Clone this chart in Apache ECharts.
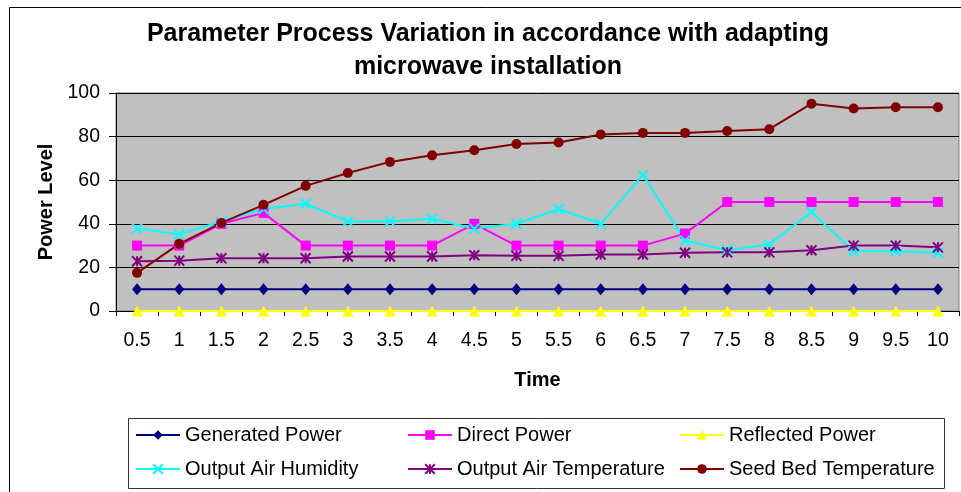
<!DOCTYPE html>
<html><head><meta charset="utf-8">
<script src="https://cdn.jsdelivr.net/npm/echarts@6/dist/echarts.min.js"></script>
<style>html,body{margin:0;padding:0;background:#fff}#c{width:961px;height:492px}</style>
</head><body><div id="c"></div>
<script>
var categories = ['0.5','1','1.5','2','2.5','3','3.5','4','4.5','5','5.5','6','6.5','7','7.5','8','8.5','9','9.5','10'];
var generatedPower = [10,10,10,10,10,10,10,10,10,10,10,10,10,10,10,10,10,10,10,10];
var directPower = [30,30,40,45,30,30,30,30,40,30,30,30,30,35.5,50,50,50,50,50,50];
var reflectedPower = [0,0,0,0,0,0,0,0,0,0,0,0,0,0,0,0,0,0,0,0];
var outputAirHumidity = [37.8,35.2,41.1,46.8,49.2,41.1,41.1,42.3,37.8,40,46.8,40,62.4,32.3,27.9,30.5,45.4,27.4,27.4,26.7];
var outputAirTemperature = [22.8,23.1,24.2,24.2,24.2,25,25,25,25.6,25.3,25.3,25.9,25.9,26.7,26.9,26.9,27.9,30,30,29.2];
var seedBedTemperature = [17.5,30.8,40.4,48.7,57.4,63.3,68.4,71.4,73.7,76.6,77.3,81,81.7,81.7,82.6,83.4,95.1,92.9,93.5,93.5];
var yTicks = {min:0, max:100, interval:20};

var FONT = 'Liberation Sans, Arial, sans-serif';
var xPath = 'path://M0,0L10,10M10,0L0,10';
var starPath = 'path://M0,0L10,10M10,0L0,10M5,0L5,10';

function mk(name, data, color, symbol, size, stroke) {
  return {
    name: name, type: 'line', data: data, symbol: symbol, symbolSize: size,
    symbolKeepAspect: true, showAllSymbol: true, animation: false,
    lineStyle: {color: color, width: 2},
    itemStyle: stroke ? {color: 'rgba(0,0,0,0)', borderColor: color, borderWidth: 2} : {color: color, borderWidth: 0},
    emphasis: {disabled: true}
  };
}

var chart = echarts.init(document.getElementById('c'), null, {renderer: 'canvas'});
var legendCommon = {
  orient: 'vertical', itemWidth: 44, itemHeight: 12, itemGap: 14,
  textStyle: {fontFamily: FONT, fontSize: 20, color: '#000', lineHeight: 20},
  selectedMode: false, padding: 0
};
chart.setOption({
  animation: false,
  backgroundColor: '#fff',
  grid: {left: 116, right: 2, top: 93, bottom: 181, show: true, backgroundColor: '#c0c0c0', borderColor: '#808080', borderWidth: 1},
  xAxis: {
    type: 'category', data: categories, boundaryGap: true,
    name: 'Time', nameLocation: 'middle', nameGap: 59,
    nameTextStyle: {fontFamily: FONT, fontSize: 20, fontWeight: 'bold', color: '#000'},
    axisLine: {lineStyle: {color: '#000', width: 1}},
    axisTick: {show: true, interval: 0, length: 5, lineStyle: {color: '#000'}},
    axisLabel: {interval: 0, fontFamily: FONT, fontSize: 19.5, color: '#000', margin: 20},
    splitLine: {show: false}
  },
  yAxis: {
    type: 'value', min: yTicks.min, max: yTicks.max, interval: yTicks.interval,
    name: 'Power Level', nameLocation: 'middle', nameGap: 60, nameRotate: 90,
    nameTextStyle: {fontFamily: FONT, fontSize: 20, fontWeight: 'bold', color: '#000'},
    axisLine: {show: true, lineStyle: {color: '#000', width: 1}},
    axisTick: {show: true, length: 7, lineStyle: {color: '#000'}},
    axisLabel: {fontFamily: FONT, fontSize: 19.5, color: '#000', margin: 16},
    splitLine: {show: true, lineStyle: {color: '#000', width: 1}}
  },
  legend: [
    Object.assign({}, legendCommon, {left: 135, top: 425, data: ['Generated Power', 'Output Air Humidity']}),
    Object.assign({}, legendCommon, {left: 407, top: 425, data: ['Direct Power', 'Output Air Temperature']}),
    Object.assign({}, legendCommon, {left: 679, top: 425, data: ['Reflected Power', 'Seed Bed Temperature']})
  ],
  graphic: [
    {type: 'rect', shape: {x: 9.5, y: 7.5, width: 1000, height: 600}, style: {fill: 'none', stroke: '#000', lineWidth: 1}, silent: true, z: -10},
    {type: 'rect', shape: {x: 128.5, y: 418.5, width: 816, height: 70}, style: {fill: 'none', stroke: '#333', lineWidth: 1}, silent: true},
    {type: 'text', x: 488, y: 34, style: {text: 'Parameter Process Variation in accordance with adapting', fontFamily: FONT, fontSize: 25, fontWeight: 'bold', fill: '#000', textAlign: 'center', textVerticalAlign: 'middle'}, silent: true},
    {type: 'text', x: 488, y: 67, style: {text: 'microwave installation', fontFamily: FONT, fontSize: 25, fontWeight: 'bold', fill: '#000', textAlign: 'center', textVerticalAlign: 'middle'}, silent: true}
  ],
  series: [
    mk('Generated Power', generatedPower, '#000080', 'diamond', [10, 12], false),
    mk('Direct Power', directPower, '#ff00ff', 'rect', 10, false),
    mk('Reflected Power', reflectedPower, '#ffff00', 'triangle', 11, false),
    mk('Output Air Humidity', outputAirHumidity, '#00ffff', xPath, 10, true),
    mk('Output Air Temperature', outputAirTemperature, '#800080', starPath, 10, true),
    mk('Seed Bed Temperature', seedBedTemperature, '#800000', 'circle', 10, false)
  ]
});
</script>
</body></html>
